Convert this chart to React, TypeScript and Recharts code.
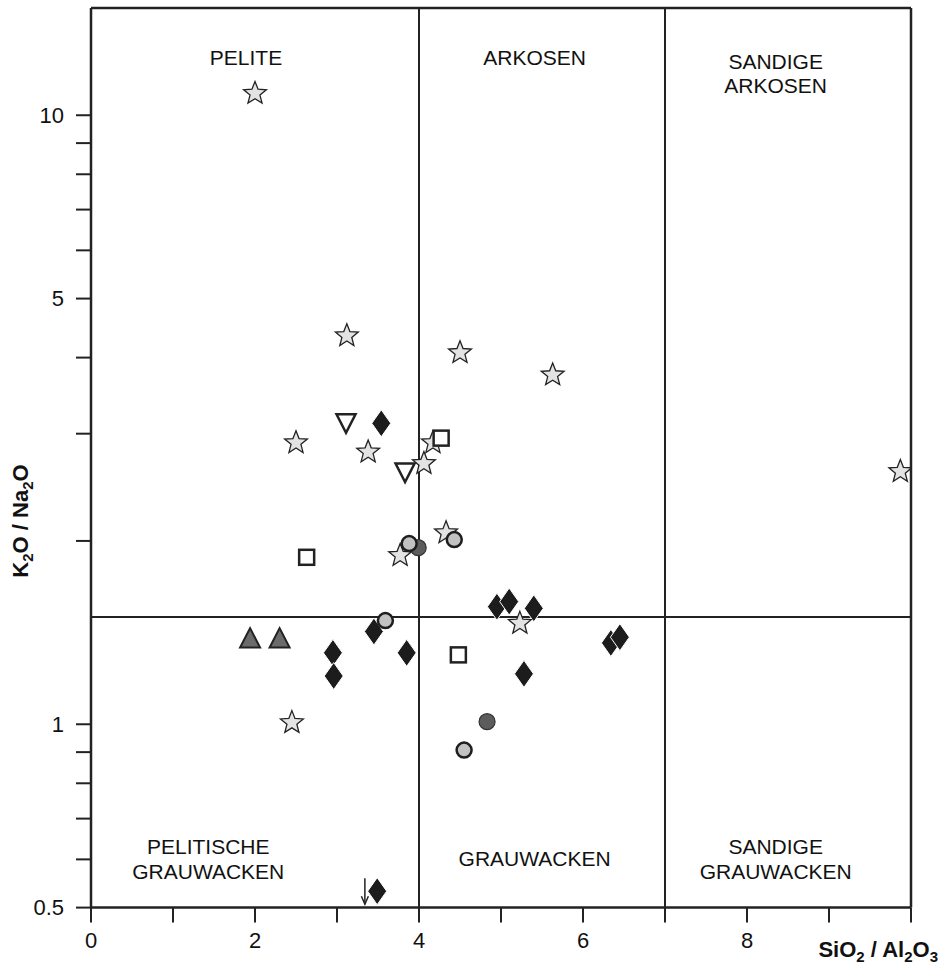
import React from 'react';
import { ScatterChart, Scatter, XAxis, YAxis, ReferenceLine, ReferenceDot } from 'recharts';

// SiO2/Al2O3 vs K2O/Na2O
const stars = [
  [2.0, 10.9], [3.12, 4.36], [4.5, 4.09], [5.63, 3.76], [2.5, 2.91], [3.38, 2.81],
  [4.17, 2.91], [4.06, 2.69], [9.87, 2.61], [4.33, 2.07], [3.77, 1.9], [5.23, 1.47], [2.45, 1.01],
];
const diamonds = [
  [3.54, 3.12], [3.45, 1.42], [2.95, 1.31], [2.96, 1.2], [3.85, 1.31], [4.95, 1.56],
  [5.1, 1.59], [5.4, 1.55], [6.34, 1.36], [6.45, 1.39], [5.28, 1.21], [3.49, 0.532],
];
const squares = [[2.63, 1.88], [4.27, 2.95], [4.48, 1.3]];
const downTriangles = [[3.11, 3.12], [3.83, 2.59]];
const lightCircles = [[3.88, 1.98], [4.43, 2.01], [3.59, 1.48], [4.55, 0.907]];
const darkCircles = [[3.99, 1.95], [4.83, 1.01]];
const upTriangles = [[1.94, 1.385], [2.3, 1.385]];
const arrows = [[3.34, 0.532]];

const xTicks = [0, 1, 2, 3, 4, 5, 6, 7, 8, 9, 10];
const xTickLabels = [0, 2, 4, 6, 8];
const yTicks = [0.5, 0.6, 0.7, 0.8, 0.9, 1, 2, 3, 4, 5, 6, 7, 8, 9, 10];
const yTickLabels = [0.5, 1, 5, 10];

// field boundaries
const xBounds = [4, 7];
const yBound = 1.5;

const regionLabels = [
  { text: 'PELITE', x: 1.89, y: 12.46 },
  { text: 'ARKOSEN', x: 5.41, y: 12.46 },
  { text: 'SANDIGE', x: 8.35, y: 12.27 },
  { text: 'ARKOSEN', x: 8.35, y: 11.17 },
  { text: 'PELITISCHE', x: 1.43, y: 0.629 },
  { text: 'GRAUWACKEN', x: 1.43, y: 0.574 },
  { text: 'GRAUWACKEN', x: 5.41, y: 0.603 },
  { text: 'SANDIGE', x: 8.35, y: 0.629 },
  { text: 'GRAUWACKEN', x: 8.35, y: 0.574 },
];

const FONT = 'Liberation Sans, Arial, Helvetica, sans-serif';
const INK = '#222';

const toPoints = (arr: number[][]) => arr.map(([x, y]) => ({ x, y }));

const StarShape = (props: any) => {
  const { cx, cy } = props;
  const pts: string[] = [];
  for (let i = 0; i < 10; i++) {
    const r = i % 2 === 0 ? 12 : 5.2;
    const a = -Math.PI / 2 + (i * Math.PI) / 5;
    pts.push(`${cx + r * Math.cos(a)},${cy + 1 + r * Math.sin(a)}`);
  }
  return <polygon points={pts.join(' ')} fill="#e3e3e3" stroke={INK} strokeWidth={1.3} />;
};

const DiamondShape = (props: any) => {
  const { cx, cy } = props;
  return (
    <polygon
      points={`${cx},${cy - 13.5} ${cx + 9.5},${cy} ${cx},${cy + 13.5} ${cx - 9.5},${cy}`}
      fill="#1c1c1c"
      stroke="#fff"
      strokeWidth={1}
    />
  );
};

const SquareShape = (props: any) => {
  const { cx, cy } = props;
  return <rect x={cx - 7.5} y={cy - 7.5} width={15} height={15} fill="#fff" stroke={INK} strokeWidth={2.5} />;
};

const DownTriangleShape = (props: any) => {
  const { cx, cy } = props;
  return (
    <polygon
      points={`${cx - 9.5},${cy - 9} ${cx + 9.5},${cy - 9} ${cx},${cy + 9.5}`}
      fill="#fff"
      stroke={INK}
      strokeWidth={2.5}
    />
  );
};

const UpTriangleShape = (props: any) => {
  const { cx, cy } = props;
  return (
    <polygon
      points={`${cx},${cy - 10} ${cx + 10},${cy + 9.5} ${cx - 10},${cy + 9.5}`}
      fill="#6b6b6b"
      stroke={INK}
      strokeWidth={2}
    />
  );
};

const LightCircleShape = (props: any) => {
  const { cx, cy } = props;
  return <circle cx={cx} cy={cy} r={7.5} fill="#c2c2c2" stroke="#1e1e1e" strokeWidth={2.5} />;
};

const DarkCircleShape = (props: any) => {
  const { cx, cy } = props;
  return <circle cx={cx} cy={cy} r={8} fill="#5c5c5c" stroke="#333" strokeWidth={1.2} />;
};

const ArrowShape = (props: any) => {
  const { cx, cy } = props;
  return (
    <g stroke={INK} strokeWidth={1.5} fill="none">
      <line x1={cx} y1={cy - 13} x2={cx} y2={cy + 13} />
      <polyline points={`${cx - 3.5},${cy + 5} ${cx},${cy + 13} ${cx + 3.5},${cy + 5}`} />
    </g>
  );
};

const RegionText = (text: string) => (props: any) => (
  <text
    x={props.cx}
    y={props.cy}
    textAnchor="middle"
    dominantBaseline="central"
    fontSize={21}
    fill="#111"
    fontFamily={FONT}
  >
    {text}
  </text>
);

const XTitle = () => (
  <text x={938} y={957} textAnchor="end" fontSize={22} fontWeight="bold" fill="#111" fontFamily={FONT}>
    SiO<tspan fontSize={15} dy={5}>2</tspan>
    <tspan dy={-5}> / Al</tspan>
    <tspan fontSize={15} dy={5}>2</tspan>
    <tspan dy={-5}>O</tspan>
    <tspan fontSize={15} dy={5}>3</tspan>
  </text>
);

const YTitle = () => (
  <text
    x={28}
    y={521}
    transform="rotate(-90, 28, 521)"
    textAnchor="middle"
    fontSize={22}
    fontWeight="bold"
    fill="#111"
    fontFamily={FONT}
  >
    K<tspan fontSize={15} dy={5}>2</tspan>
    <tspan dy={-5}>O / Na</tspan>
    <tspan fontSize={15} dy={5}>2</tspan>
    <tspan dy={-5}>O</tspan>
  </text>
);

const tickStyle = { fontSize: 22, fill: '#111', fontFamily: FONT };

export default function App() {
  return (
    <div style={{ position: 'absolute', left: 0, top: 0, width: 940, height: 970, background: '#fff' }}>
      <ScatterChart
        width={940}
        height={970}
        margin={{ top: 8, right: 29, bottom: 22.4, left: 0 }}
        style={{ fontFamily: FONT }}
      >
        <XAxis
          type="number"
          dataKey="x"
          domain={[0, 10]}
          ticks={xTicks}
          tickFormatter={(v: number) => (xTickLabels.includes(v) ? String(v) : '')}
          tick={tickStyle}
          tickSize={15}
          tickMargin={10}
          height={40}
          axisLine={{ stroke: INK, strokeWidth: 2.5 }}
          tickLine={{ stroke: INK, strokeWidth: 2 }}
          allowDataOverflow
          label={{ content: XTitle }}
        />
        <YAxis
          type="number"
          dataKey="y"
          scale="log"
          domain={[0.5, 15]}
          ticks={yTicks}
          tickFormatter={(v: number) => (yTickLabels.includes(v) ? String(v) : '')}
          tick={tickStyle}
          tickSize={15}
          tickMargin={12}
          width={91}
          axisLine={{ stroke: INK, strokeWidth: 2.5 }}
          tickLine={{ stroke: INK, strokeWidth: 2 }}
          allowDataOverflow
          label={{ content: YTitle }}
        />
        <ReferenceLine y={15} stroke={INK} strokeWidth={2.5} />
        <ReferenceLine x={10} stroke={INK} strokeWidth={2.5} />
        {xBounds.map((b) => (
          <ReferenceLine key={b} x={b} stroke={INK} strokeWidth={2} />
        ))}
        <ReferenceLine y={yBound} stroke={INK} strokeWidth={2} />
        {regionLabels.map((l, i) => (
          <ReferenceDot key={i} x={l.x} y={l.y} r={0} shape={RegionText(l.text)} />
        ))}
        <Scatter data={toPoints(diamonds)} shape={DiamondShape} isAnimationActive={false} />
        <Scatter data={toPoints(stars)} shape={StarShape} isAnimationActive={false} />
        <Scatter data={toPoints(squares)} shape={SquareShape} isAnimationActive={false} />
        <Scatter data={toPoints(downTriangles)} shape={DownTriangleShape} isAnimationActive={false} />
        <Scatter data={toPoints(darkCircles)} shape={DarkCircleShape} isAnimationActive={false} />
        <Scatter data={toPoints(lightCircles)} shape={LightCircleShape} isAnimationActive={false} />
        <Scatter data={toPoints(upTriangles)} shape={UpTriangleShape} isAnimationActive={false} />
        <Scatter data={toPoints(arrows)} shape={ArrowShape} isAnimationActive={false} />
      </ScatterChart>
    </div>
  );
}
